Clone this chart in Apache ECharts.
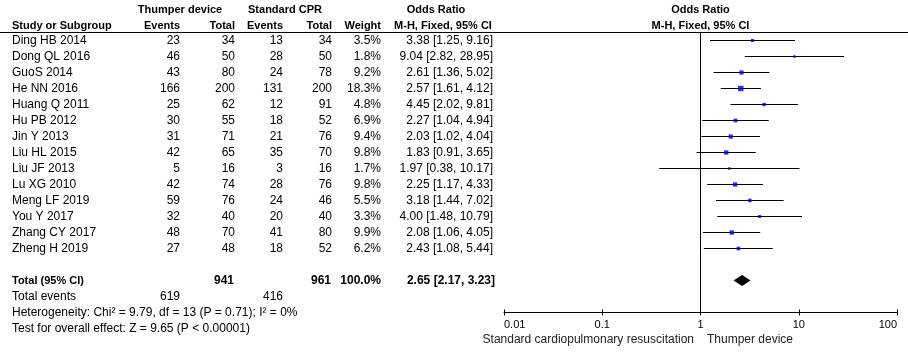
<!DOCTYPE html>
<html>
<head>
<meta charset="utf-8">
<script src="https://cdn.jsdelivr.net/npm/echarts@6/dist/echarts.min.js"></script>
<style>
  html, body { margin: 0; padding: 0; background: #fff; }
  #chart { width: 908px; height: 352px; }
</style>
</head>
<body>
<div id="chart"></div>
<script>
const studies = ['Ding HB 2014', 'Dong QL 2016', 'GuoS 2014', 'He NN 2016', 'Huang Q 2011', 'Hu PB 2012', 'Jin Y 2013',
  'Liu HL 2015', 'Liu JF 2013', 'Lu XG 2010', 'Meng LF 2019', 'You Y 2017', 'Zhang CY 2017', 'Zheng H 2019'];
const thumperEvents = [23, 46, 43, 166, 25, 30, 31, 42, 5, 42, 59, 32, 48, 27];
const thumperTotal = [34, 50, 80, 200, 62, 55, 71, 65, 16, 74, 76, 40, 70, 48];
const cprEvents = [13, 28, 24, 131, 12, 18, 21, 35, 3, 28, 24, 20, 41, 18];
const cprTotal = [34, 50, 78, 200, 91, 52, 76, 70, 16, 76, 46, 40, 80, 52];
const weights = [3.5, 1.8, 9.2, 18.3, 4.8, 6.9, 9.4, 9.8, 1.7, 9.8, 5.5, 3.3, 9.9, 6.2];
const oddsRatio = [3.38, 9.04, 2.61, 2.57, 4.45, 2.27, 2.03, 1.83, 1.97, 2.25, 3.18, 4.00, 2.08, 2.43];
const ciLow = [1.25, 2.82, 1.36, 1.61, 2.02, 1.04, 1.02, 0.91, 0.38, 1.17, 1.44, 1.48, 1.06, 1.08];
const ciHigh = [9.16, 28.95, 5.02, 4.12, 9.81, 4.94, 4.04, 3.65, 10.17, 4.33, 7.02, 10.79, 4.05, 5.44];
const pooled = [2.17, 2.65, 3.23]; // low, OR, high
const totals = [941, 961];
const totalEvents = [619, 416];
const axisTicks = [0.01, 0.1, 1, 10, 100];
const heterogeneity = 'Heterogeneity: Chi\u00b2 = 9.79, df = 13 (P = 0.71); I\u00b2 = 0%';
const overallTest = 'Test for overall effect: Z = 9.65 (P < 0.00001)';

const FAMILY = 'Arial, "Liberation Sans", sans-serif';
const FONT = '12px ' + FAMILY;
const BOLD = 'bold 11px ' + FAMILY;
const BOLDNUM = 'bold 12px ' + FAMILY;

// table cells: column x (px inside table grid), row index
const cells = [];
function cell(x, row, text, align, font) {
  cells.push({ x: x, row: row, text: String(text), align: align || 'right', font: font || FONT });
}
const fmtCI = (o, l, h) => o.toFixed(2) + ' [' + l.toFixed(2) + ', ' + h.toFixed(2) + ']';

cell(180, -1.9, 'Thumper device', 'center', BOLD);
cell(285, -1.9, 'Standard CPR', 'center', BOLD);
cell(436, -1.9, 'Odds Ratio', 'center', BOLD);
cell(12, -0.9, 'Study or Subgroup', 'left', BOLD);
cell(180, -0.9, 'Events', 'right', BOLD);
cell(235, -0.9, 'Total', 'right', BOLD);
cell(283, -0.9, 'Events', 'right', BOLD);
cell(332, -0.9, 'Total', 'right', BOLD);
cell(381, -0.9, 'Weight', 'right', BOLD);
cell(443, -0.9, 'M-H, Fixed, 95% CI', 'center', BOLD);
studies.forEach((s, i) => {
  cell(12, i, s, 'left');
  cell(180, i, thumperEvents[i]);
  cell(235, i, thumperTotal[i]);
  cell(283, i, cprEvents[i]);
  cell(332, i, cprTotal[i]);
  cell(381, i, weights[i].toFixed(1) + '%');
  cell(493, i, fmtCI(oddsRatio[i], ciLow[i], ciHigh[i]));
});
cell(12, 15, 'Total (95% CI)', 'left', BOLD);
cell(234, 15, totals[0], 'right', BOLDNUM);
cell(331, 15, totals[1], 'right', BOLDNUM);
cell(381, 15, '100.0%', 'right', BOLDNUM);
cell(495, 15, fmtCI(pooled[1], pooled[0], pooled[2]), 'right', BOLDNUM);
cell(12, 16, 'Total events', 'left');
cell(180, 16, totalEvents[0]);
cell(283, 16, totalEvents[1]);
cell(12, 17, heterogeneity, 'left');
cell(12, 18, overallTest, 'left');

// texts placed on the odds-ratio axis
const plotTexts = [
  { x: 1, row: -1.9, dx: 0, text: 'Odds Ratio', align: 'center', font: BOLD },
  { x: 1, row: -0.9, dx: 0, text: 'M-H, Fixed, 95% CI', align: 'center', font: BOLD },
  { x: 1, row: 18.7, dx: -6.5, text: 'Standard cardiopulmonary resuscitation', align: 'right', font: FONT },
  { x: 1, row: 18.7, dx: 6.5, text: 'Thumper device', align: 'left', font: FONT }
];

const chart = echarts.init(document.getElementById('chart'));

const yCommon = { type: 'value', min: -0.5, max: 17, inverse: true, show: false };
const logCommon = {
  type: 'log', logBase: 10, min: axisTicks[0], max: axisTicks[axisTicks.length - 1],
  gridIndex: 0, position: 'bottom', splitLine: { show: false }
};

chart.setOption({
  animation: false,
  grid: [
    { left: 504, top: 32.5, width: 393, height: 280 },
    { left: 0, top: 32.5, width: 504, height: 280 }
  ],
  xAxis: [
    Object.assign({}, logCommon, {
      axisLine: { onZero: false, lineStyle: { color: '#000', width: 1 } },
      axisTick: { inside: false, length: 3, lineStyle: { color: '#000' } },
      axisLabel: {
        margin: 7, color: '#000', fontSize: 11, fontFamily: FAMILY,
        alignMinLabel: 'left', alignMaxLabel: 'right',
        formatter: v => String(+(+v).toPrecision(2))
      }
    }),
    Object.assign({}, logCommon, {
      axisLine: { show: false, onZero: false },
      axisTick: { inside: true, length: 3, lineStyle: { color: '#000' } },
      axisLabel: { show: false }
    }),
    { type: 'value', gridIndex: 1, min: 0, max: 504, show: false }
  ],
  yAxis: [
    Object.assign({ gridIndex: 0 }, yCommon),
    Object.assign({ gridIndex: 1 }, yCommon)
  ],
  graphic: [
    { type: 'line', shape: { x1: 0, y1: 32.5, x2: 908, y2: 32.5 }, style: { stroke: '#000', lineWidth: 1 } }
  ],
  series: [
    {
      // confidence intervals
      type: 'custom',
      xAxisIndex: 0, yAxisIndex: 0,
      data: studies.map((s, i) => [ciLow[i], ciHigh[i], i]),
      encode: { x: [0, 1], y: 2 },
      renderItem: (params, api) => {
        const a = api.coord([api.value(0), api.value(2)]);
        const b = api.coord([api.value(1), api.value(2)]);
        return { type: 'line', shape: { x1: a[0], y1: a[1], x2: b[0], y2: b[1] }, style: { stroke: '#000', lineWidth: 1 } };
      },
      markLine: {
        silent: true, symbol: 'none', label: { show: false },
        lineStyle: { color: '#000', width: 1, type: 'solid' },
        data: [{ xAxis: 1 }]
      },
      z: 2
    },
    {
      // study estimates, square size by weight
      type: 'scatter',
      xAxisIndex: 0, yAxisIndex: 0,
      symbol: 'rect',
      data: studies.map((s, i) => ({ value: [oddsRatio[i], i], symbolSize: Math.sqrt(weights[i]) + 1.2 })),
      itemStyle: { color: '#0000CC' },
      z: 3
    },
    {
      // pooled diamond
      type: 'custom',
      xAxisIndex: 0, yAxisIndex: 0,
      data: [[pooled[0], pooled[1], pooled[2], 15]],
      encode: { x: [0, 1, 2], y: 3 },
      renderItem: (params, api) => {
        const r = api.value(3);
        const l = api.coord([api.value(0), r]);
        const m = api.coord([api.value(1), r]);
        const h = api.coord([api.value(2), r]);
        const hh = 5.5;
        return {
          type: 'polygon',
          shape: { points: [[l[0], l[1]], [m[0], m[1] - hh], [h[0], h[1]], [m[0], m[1] + hh]] },
          style: { fill: '#000' }
        };
      },
      z: 3
    },
    {
      // texts on plot side
      type: 'custom',
      xAxisIndex: 0, yAxisIndex: 0,
      data: plotTexts.map(t => [t.x, t.row]),
      renderItem: (params, api) => {
        const t = plotTexts[params.dataIndex];
        const p = api.coord([t.x, t.row]);
        return {
          type: 'text', x: p[0] + t.dx, y: p[1],
          style: { text: t.text, align: t.align, verticalAlign: 'middle', font: t.font, fill: t.font === FONT ? '#222' : '#000' }
        };
      }
    },
    {
      // table
      type: 'custom',
      xAxisIndex: 2, yAxisIndex: 1,
      data: cells.map(c => [c.x, c.row]),
      renderItem: (params, api) => {
        const c = cells[params.dataIndex];
        const p = api.coord([c.x, c.row]);
        return {
          type: 'text', x: p[0], y: p[1],
          style: { text: c.text, align: c.align, verticalAlign: 'middle', font: c.font, fill: '#000' }
        };
      }
    }
  ]
});
</script>
</body>
</html>
